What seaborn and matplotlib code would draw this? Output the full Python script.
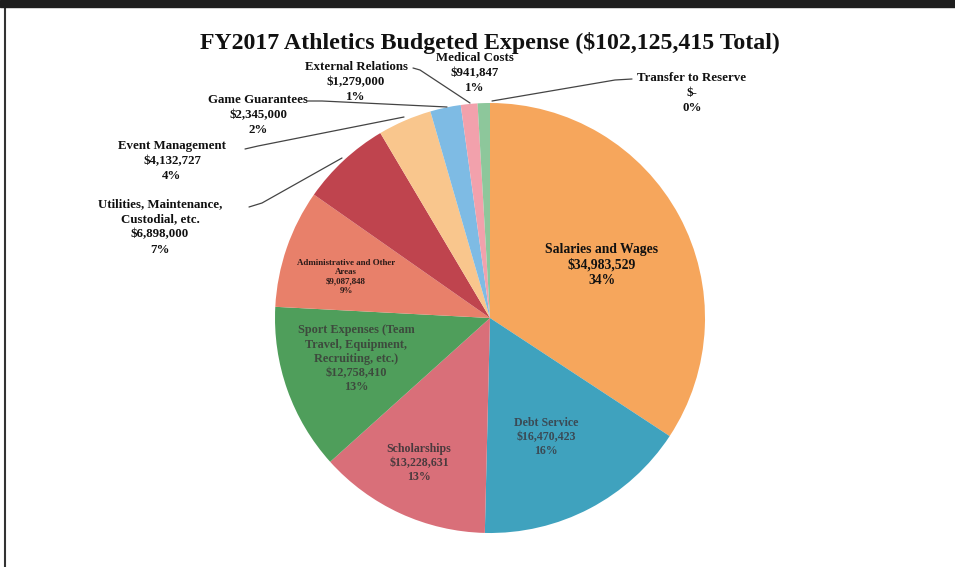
import matplotlib
matplotlib.use("Agg")
import matplotlib.pyplot as plt
from matplotlib.patches import Rectangle
import seaborn as sns

# ---- data ----
categories = ["Salaries and Wages", "Debt Service", "Scholarships",
              "Sport Expenses (Team\nTravel, Equipment,\nRecruiting, etc.)",
              "Administrative and Other\nAreas",
              "Utilities, Maintenance,\nCustodial, etc.",
              "Event Management", "Game Guarantees", "External Relations",
              "Medical Costs", "Transfer to Reserve"]
amounts = [34983529, 16470423, 13228631, 12758410, 9087848, 6898000,
           4132727, 2345000, 1279000, 941847, 0]
pct_labels = ["34%", "16%", "13%", "13%", "9%", "7%", "4%", "2%", "1%", "1%", "0%"]
total = 102125415
title = "FY2017 Athletics Budgeted Expense ($102,125,415 Total)"

colors = ["#F6A65C", "#3FA2BE", "#D96F79", "#4F9E5B", "#E8806A", "#BF444E",
          "#F9C68D", "#7EBBE4", "#F2A1AC", "#8DC79B", "#B9B9B9"]

sns.set_theme(style="white")
plt.rcParams['font.family'] = ['Liberation Serif', 'DejaVu Serif']

W, H = 955, 567
fig = plt.figure(figsize=(W / 100, H / 100), dpi=100)
ax = fig.add_axes([0, 0, 1, 1])

def Y(y):
    return H - y

cx, cy, R = 490, 318, 215
ax.pie(amounts, colors=colors, startangle=90, counterclock=False,
       center=(cx, Y(cy)), radius=R, wedgeprops=dict(linewidth=0))
ax.set_xlim(0, W)
ax.set_ylim(0, H)
ax.set_aspect('equal')
ax.axis('off')

def money(v):
    return "$-" if v == 0 else "${:,}".format(v)

labels = [f"{c}\n{money(a)}\n{p}" for c, a, p in zip(categories, amounts, pct_labels)]

# inside labels: (index, x, y, fontsize, color)
inside = [(0, 602, 265, 9.8, "#111111"),
          (1, 546, 437, 8.6, "#3a4a55"),
          (2, 419, 463, 8.6, "#4a3a3e"),
          (3, 356, 359, 8.8, "#3d4a3d"),
          (4, 346, 277, 6.4, "#2a1a18")]
for i, x, y, fs, col in inside:
    ax.text(x, Y(y), labels[i], ha='center', va='center', fontsize=fs,
            fontweight='bold', color=col, linespacing=1.25)

# outside labels: (index, x, y)
outside = [(5, 160, 227), (6, 172, 161), (7, 258, 115), (8, 356, 82),
           (9, 475, 73), (10, 692, 93)]
for i, x, y in outside:
    ax.text(x, Y(y), labels[i], ha='center', va='center', fontsize=9.3,
            fontweight='bold', color="#111111", linespacing=1.35)

# leader lines
leaders = [[(249, 207), (262, 203), (342, 158)],
           [(245, 149), (258, 146), (404, 117)],
           [(308, 101), (322, 101), (447, 107)],
           [(413, 68), (420, 70), (470, 103)],
           [(632, 79), (615, 80), (492, 101)]]
for pts in leaders:
    ax.plot([p[0] for p in pts], [Y(p[1]) for p in pts], color="#444444", lw=0.9)

ax.text(490, Y(43), title, ha='center', va='center', fontsize=17.2,
        fontweight='bold', color="#111111")

# scanned frame
fig.patches.append(Rectangle((0, 1 - 7 / H), 1, 7 / H, transform=fig.transFigure,
                             color="#1e1e1e", zorder=0))
ax.plot([5, 5], [0, Y(8)], color="#333333", lw=1.5)

fig.savefig("out.png", dpi=100)
